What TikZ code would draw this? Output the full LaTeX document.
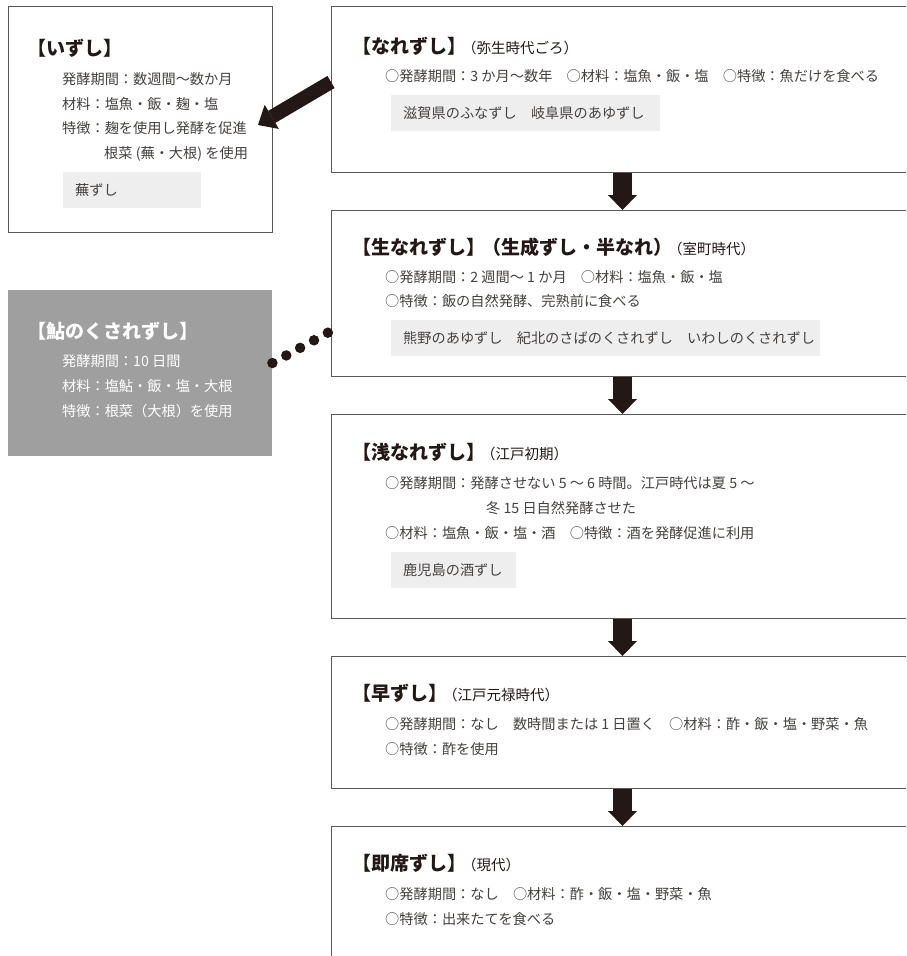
\documentclass[tikz,border=0pt]{standalone}
\usepackage{fontspec}
\setmainfont{Noto Sans CJK JP}
\usetikzlibrary{arrows.meta}
\definecolor{ink}{HTML}{231815}
\definecolor{txt}{HTML}{45413F}
\definecolor{framec}{HTML}{595757}
\definecolor{exfill}{HTML}{EEEEEE}
\definecolor{ayufill}{HTML}{9F9F9F}
\newcommand\periodfont{\fontsize{14.5}{14.5}\selectfont\mdseries}
\begin{document}
\begin{tikzpicture}[x=1pt,y=-1pt,
  stagebox/.style={draw=framec, line width=1pt, fill=white, rectangle, inner sep=0pt, anchor=north west, minimum width=600pt},
  ayubox/.style={fill=ayufill, rectangle, inner sep=0pt, anchor=north west},
  ttl/.style={anchor=west, inner sep=0pt, font=\fontsize{19}{19}\selectfont\bfseries, text=ink, text height=16.7pt, text depth=2.3pt},
  body/.style={anchor=west, inner sep=0pt, font=\fontsize{14.2}{14.2}\selectfont, text=txt, text height=12.5pt, text depth=1.7pt},
  exbox/.style={fill=exfill, inner xsep=12pt, inner ysep=0pt, minimum height=36pt, anchor=north west, align=left, font=\fontsize{14.2}{14.2}\selectfont, text=txt, text height=12.5pt, text depth=1.7pt},
  downarrow/.style={draw=ink, line width=19pt, -{Triangle[width=29pt,length=15pt,line width=0pt]}},
  diagarrow/.style={draw=ink, line width=14pt, -{Triangle[width=28pt,length=16pt,line width=0pt]}},
  dotline/.style={draw=ink, line width=10.5pt, line cap=round, dash pattern=on 0pt off 15.8pt}
]
\fill[white] (0,0) rectangle (906,956);
\useasboundingbox (0,0) rectangle (906,956);
\clip (0,0) rectangle (906,956);

% --- izushi ---
\node[stagebox, minimum width=264pt, minimum height=226pt] (izushi) at (8,6) {};
\node[ttl] (izt) at (27,48) {【いずし】};
\node[body] (iz1) at (62,79) {発酵期間：数週間～数か月};
\node[body] (iz2) at (62,104) {材料：塩魚・飯・麹・塩};
\node[body] (iz3) at (62,128) {特徴：麹を使用し発酵を促進};
\node[body] (iz4) at (104,153) {根菜 (蕪・大根) を使用};
\node[exbox, minimum width=138pt, text width=114pt] (izex) at (63,172) {蕪ずし};

% --- ayu no kusarezushi ---
\node[ayubox, minimum width=264pt, minimum height=166pt] (ayu) at (8,290) {};
\node[ttl, text=white] (ayut) at (27,331) {【鮎のくされずし】};
\node[body, text=white] (ay1) at (62,361) {発酵期間：10 日間};
\node[body, text=white] (ay2) at (62,386) {材料：塩鮎・飯・塩・大根};
\node[body, text=white] (ay3) at (62,411) {特徴：根菜（大根）を使用};

% --- narezushi ---
\node[stagebox, minimum height=166pt] (nare) at (331,6) {};
\node[ttl] (naret) at (352,46) {【なれずし】\hspace{-4pt}{\periodfont（弥生時代ごろ）}};
\node[body] (nare1) at (385,76) {○発酵期間：3 か月～数年　○材料：塩魚・飯・塩　○特徴：魚だけを食べる};
\node[exbox, minimum width=269pt, text width=245pt] (nareex) at (391,95) {滋賀県のふなずし　岐阜県のあゆずし};

% --- namanarezushi ---
\node[stagebox, minimum height=166pt] (nama) at (331,210) {};
\node[ttl] (namat) at (352,247) {【生なれずし】\hspace{-3pt}（生成ずし・半なれ）\hspace{-4pt}{\periodfont（室町時代）}};
\node[body] (nama1) at (385,277) {○発酵期間：2 週間～ 1 か月　○材料：塩魚・飯・塩};
\node[body] (nama2) at (385,301) {○特徴：飯の自然発酵、完熟前に食べる};
\node[exbox, minimum width=429pt, text width=405pt] (namaex) at (391,320) {熊野のあゆずし　紀北のさばのくされずし　いわしのくされずし};

% --- asanarezushi ---
\node[stagebox, minimum height=204pt] (asa) at (331,414) {};
\node[ttl] (asat) at (352,452) {【浅なれずし】\hspace{-4pt}{\periodfont（江戸初期）}};
\node[body] (asa1) at (385,483) {○発酵期間：発酵させない 5 ～ 6 時間。江戸時代は夏 5 ～};
\node[body] (asa2) at (486,508) {冬 15 日自然発酵させた};
\node[body] (asa3) at (385,533) {○材料：塩魚・飯・塩・酒　○特徴：酒を発酵促進に利用};
\node[exbox, minimum width=125pt, text width=101pt] (asaex) at (391,552) {鹿児島の酒ずし};

% --- hayazushi ---
\node[stagebox, minimum height=132pt] (haya) at (331,656) {};
\node[ttl] (hayat) at (352,693) {【早ずし】\hspace{-4pt}{\periodfont（江戸元禄時代）}};
\node[body] (haya1) at (385,724) {○発酵期間：なし　数時間または 1 日置く　○材料：酢・飯・塩・野菜・魚};
\node[body] (haya2) at (385,749) {○特徴：酢を使用};

% --- sokusekizushi ---
\node[stagebox, minimum height=200pt] (soku) at (331,826) {};
\node[ttl] (sokut) at (352,863) {【即席ずし】\hspace{-4pt}{\periodfont（現代）}};
\node[body] (soku1) at (385,894) {○発酵期間：なし　○材料：酢・飯・塩・野菜・魚};
\node[body] (soku2) at (385,919) {○特徴：出来たてを食べる};

% --- connectors ---
\draw[downarrow] ([xshift=-9pt]nare.south) -- ([xshift=-9pt]nama.north);
\draw[downarrow] ([xshift=-9pt]nama.south) -- ([xshift=-9pt]asa.north);
\draw[downarrow] ([xshift=-9pt]asa.south) -- ([xshift=-9pt]haya.north);
\draw[downarrow] ([xshift=-9pt]haya.south) -- ([xshift=-9pt]soku.north);
\draw[diagarrow] ([yshift=-76pt]nare.north west) -- ([xshift=-15pt,yshift=-119pt]izushi.north east);
\draw[dotline] ([yshift=-73pt]ayu.north east) -- ([yshift=-121pt]nama.north west);
\end{tikzpicture}
\end{document}
